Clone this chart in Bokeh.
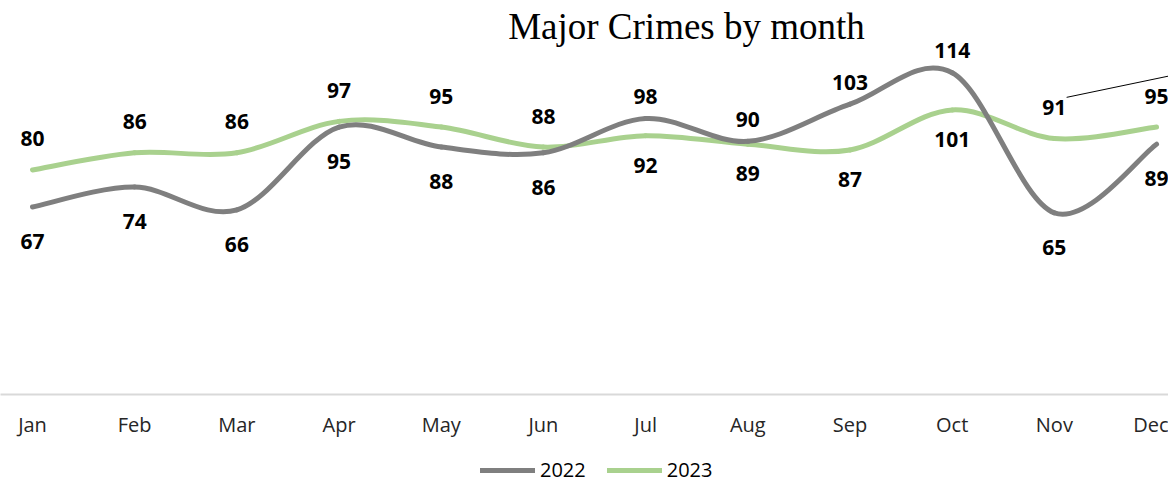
from bokeh.plotting import figure
from bokeh.layouts import column
from bokeh.models import Range1d, FixedTicker, Label, Legend, LegendItem, ColumnDataSource
from bokeh.core.properties import value
from bokeh.embed import file_html
from bokeh.resources import INLINE

months = ["Jan", "Feb", "Mar", "Apr", "May", "Jun", "Jul", "Aug", "Sep", "Oct", "Nov", "Dec"]
crimes_2022 = [67, 74, 66, 95, 88, 86, 98, 90, 103, 114, 65, 89]
crimes_2023 = [80, 86, 86, 97, 95, 88, 92, 89, 87, 101, 91, 95]
series_names = ["2022", "2023"]

GRAY = "#7f7f7f"
GREEN = "#a9d18e"

p = figure(width=1168, height=440, output_backend="svg", toolbar_location=None,
           x_range=Range1d(-0.3132, 11.117), y_range=Range1d(1.4, 139.3),
           min_border_left=0, min_border_right=0, min_border_top=0, min_border_bottom=46,
           y_axis_location=None)
p.outline_line_color = None
p.xgrid.visible = False
p.ygrid.visible = False
p.background_fill_color = "white"
p.border_fill_color = "white"


def smooth_source(vals):
    n = len(vals)
    xs = list(range(n))
    d = dict(x0=[], y0=[], x1=[], y1=[], cx0=[], cy0=[], cx1=[], cy1=[])
    for i in range(n - 1):
        xp, yp = (xs[i - 1], vals[i - 1]) if i > 0 else (xs[i], vals[i])
        xn2, yn2 = (xs[i + 2], vals[i + 2]) if i + 2 < n else (xs[i + 1], vals[i + 1])
        d["x0"].append(xs[i]); d["y0"].append(vals[i])
        d["x1"].append(xs[i + 1]); d["y1"].append(vals[i + 1])
        d["cx0"].append(xs[i] + (xs[i + 1] - xp) / 6.0)
        d["cy0"].append(vals[i] + (vals[i + 1] - yp) / 6.0)
        d["cx1"].append(xs[i + 1] - (xn2 - xs[i]) / 6.0)
        d["cy1"].append(vals[i + 1] - (yn2 - vals[i]) / 6.0)
    return ColumnDataSource(d)


for vals, col in ((crimes_2023, GREEN), (crimes_2022, GRAY)):
    p.bezier(x0="x0", y0="y0", x1="x1", y1="y1", cx0="cx0", cy0="cy0", cx1="cx1", cy1="cy1",
             source=smooth_source(vals), line_color=col, line_width=5, line_cap="round")

# data labels: the higher value of each month above its point, the lower one below
common = dict(text_font=value("Open Sans"), text_font_style="bold", text_font_size="21px",
              text_color="#000000", text_align="center", text_baseline="middle")
offsets = {"2022": (-22, 34.5), "2023": (-31, 29.5)}
for name, vals, other in (("2022", crimes_2022, crimes_2023), ("2023", crimes_2023, crimes_2022)):
    up = [i for i in range(len(vals)) if vals[i] >= other[i]]
    dn = [i for i in range(len(vals)) if vals[i] < other[i]]
    p.text(x=up, y=[vals[i] for i in up], text=[str(vals[i]) for i in up], y_offset=offsets[name][0], **common)
    p.text(x=dn, y=[vals[i] for i in dn], text=[str(vals[i]) for i in dn], y_offset=offsets[name][1], **common)

# leader line on the Nov label
nov = months.index("Nov")
p.segment(x0=[nov + 0.12], y0=[crimes_2023[nov] + 14.4], x1=[nov + 1.3], y1=[crimes_2023[nov] + 23.2],
          line_color="#000000", line_width=1)

# x axis
ax0 = p.xaxis[0]
ax0.ticker = FixedTicker(ticks=list(range(len(months))))
ax0.major_label_overrides = {i: m for i, m in enumerate(months)}
ax0.axis_line_color = "#d9d9d9"
ax0.axis_line_width = 2
ax0.major_tick_line_color = None
ax0.minor_tick_line_color = None
ax0.major_tick_out = 0
ax0.major_label_standoff = 16
ax0.major_label_text_font = "Open Sans"
ax0.major_label_text_font_size = "20px"
ax0.major_label_text_color = "#262626"

# title
p.add_layout(Label(x=686, y=368, x_units="screen", y_units="screen", text="Major Crimes by month",
                   text_font="Liberation Serif", text_font_size="37px", text_color="#000000",
                   text_align="center", text_baseline="alphabetic"))

# legend strip (proxy lines lie outside its range, only their legend samples show)
lg = figure(width=1168, height=43, output_backend="svg", toolbar_location=None,
            x_range=Range1d(0, 1), y_range=Range1d(0, 1),
            min_border_left=0, min_border_right=0, min_border_top=0, min_border_bottom=0,
            x_axis_location=None, y_axis_location=None)
lg.outline_line_color = None
lg.xgrid.visible = False
lg.ygrid.visible = False
r22 = lg.line(x=list(range(len(months))), y=crimes_2022, line_color=GRAY, line_width=5, line_cap="round")
r23 = lg.line(x=list(range(len(months))), y=crimes_2023, line_color=GREEN, line_width=5, line_cap="round")
legend = Legend(items=[LegendItem(label=series_names[0], renderers=[r22]),
                       LegendItem(label=series_names[1], renderers=[r23])],
                orientation="horizontal", location=(480, 0),
                glyph_width=55, glyph_height=10, label_height=10, label_standoff=5, spacing=21,
                padding=0, margin=0, border_line_color=None, background_fill_alpha=0,
                label_text_font="Open Sans", label_text_font_size="20px", label_text_color="#000000")
lg.add_layout(legend, "center")

open("out.html", "w").write(file_html(column(p, lg, spacing=0), INLINE))
